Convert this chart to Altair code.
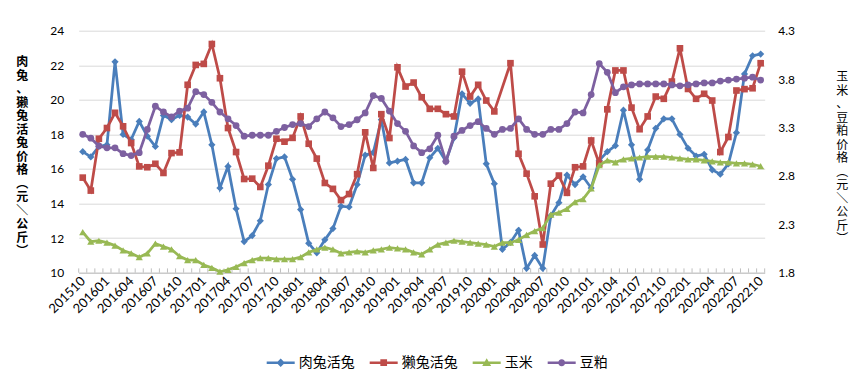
import altair as alt
import pandas as pd

# ---- categories (monthly, 201510 .. 202210) ----
months = []
_y, _m = 2015, 10
for _ in range(85):
    months.append(f"{_y}{_m:02d}")
    _m += 1
    if _m > 12:
        _m = 1
        _y += 1

# ---- series values ----
rou_tu = [17.0, 16.7, 17.3, 17.4, 22.2, 18.0, 17.7, 18.75, 17.9, 17.3,
          19.1, 18.85, 19.1, 19.0, 18.6, 19.3, 17.4, 14.9, 16.15, 13.7,
          11.8, 12.15, 13.0, 15.1, 16.6, 16.7, 15.4, 13.65, 11.7, 11.15,
          11.9, 12.55, 13.85, 13.8, 15.1, 16.8, 16.95, 18.85, 16.35, 16.45,
          16.55, 15.2, 15.2, 16.65, 17.2, 16.45, 17.8, 20.35, 19.8, 20.05,
          16.3, 15.15, 11.35, 11.75, 12.45, 10.25, 11.0, 10.25, 13.3, 14.05,
          15.65, 15.1, 15.55, 14.9, 16.5, 17.0, 17.35, 19.4, 17.4, 15.4,
          17.1, 18.35, 18.9, 18.9, 18.0, 17.2, 16.75, 16.85, 15.95, 15.7,
          16.3, 18.1, 21.5, 22.55, 22.65]

ta_tu = [15.5, 14.75, 17.75, 18.37, 19.25, 18.47, 17.5, 16.15, 16.1, 16.3,
         15.77, 16.92, 16.96, 20.87, 22.02, 22.08, 23.23, 21.25, 18.37, 16.98,
         15.42, 15.44, 14.96, 16.19, 17.75, 17.58, 17.8, 19.04, 17.46, 16.6,
         15.19, 14.85, 14.2, 14.55, 15.7, 18.12, 16.06, 19.17, 17.79, 21.88,
         20.77, 21.0, 20.15, 19.48, 19.48, 19.17, 19.04, 21.63, 20.19, 20.87,
         19.96, 19.33, None, 22.12, 16.88, 15.73, 14.42, 11.63, 15.15, 15.62,
         14.62, 16.1, 16.15, 17.65, 16.3, 19.45, 21.7, 21.7, 19.55, 18.3,
         19.04, 20.19, 20.06, 21.06, 22.98, 20.63, 20.06, 20.35, 19.96, 16.98,
         17.85, 20.54, 20.62, 20.67, 22.12]

yu_mi = [2.22, 2.12, 2.13, 2.11, 2.08, 2.03, 2.00, 1.96, 2.00, 2.10,
         2.07, 2.04, 1.97, 1.93, 1.93, 1.88, 1.85, 1.81, 1.83, 1.86,
         1.90, 1.93, 1.95, 1.95, 1.94, 1.94, 1.94, 1.96, 2.01, 2.04,
         2.06, 2.04, 2.00, 2.01, 2.02, 2.01, 2.03, 2.04, 2.06, 2.05,
         2.04, 2.01, 1.99, 2.04, 2.09, 2.11, 2.13, 2.12, 2.11, 2.10,
         2.09, 2.07, 2.11, 2.11, 2.14, 2.19, 2.23, 2.26, 2.40, 2.42,
         2.46, 2.53, 2.56, 2.67, 2.91, 2.96, 2.94, 2.97, 2.98, 2.99,
         3.00, 3.00, 3.00, 2.99, 2.98, 2.97, 2.97, 2.96, 2.95, 2.94,
         2.94, 2.93, 2.93, 2.92, 2.90]

dou_po = [3.23, 3.19, 3.11, 3.09, 3.09, 3.03, 3.01, 3.04, 3.28, 3.52,
          3.46, 3.41, 3.47, 3.50, 3.67, 3.64, 3.56, 3.46, 3.39, 3.32,
          3.21, 3.22, 3.22, 3.22, 3.26, 3.30, 3.33, 3.34, 3.31, 3.39,
          3.46, 3.40, 3.31, 3.33, 3.38, 3.45, 3.63, 3.60, 3.47, 3.34,
          3.26, 3.11, 3.04, 3.08, 3.22, 2.95, 3.21, 3.27, 3.32, 3.36,
          3.29, 3.23, 3.28, 3.29, 3.39, 3.28, 3.23, 3.23, 3.28, 3.28,
          3.34, 3.46, 3.45, 3.64, 3.96, 3.87, 3.66, 3.72, 3.74, 3.75,
          3.75, 3.75, 3.75, 3.74, 3.73, 3.74, 3.75, 3.76, 3.76, 3.78,
          3.79, 3.80, 3.81, 3.82, 3.79]

SERIES = ["肉兔活兔", "獭兔活兔", "玉米", "豆粕"]
COLORS = ["#4A7EBB", "#BE4B48", "#98B954", "#7D60A0"]
SHAPES = ["diamond", "square", "triangle-up", "circle"]
SIZES = [52, 44, 52, 46]

left_ticks = [10, 12, 14, 16, 18, 20, 22, 24]
right_ticks = [1.8, 2.3, 2.8, 3.3, 3.8, 4.3]

# ---- long table ----
rows = []
for name, vals in zip(SERIES, [rou_tu, ta_tu, yu_mi, dou_po]):
    for i, v in enumerate(vals):
        if v is not None:
            rows.append({"idx": i, "month": months[i], "series": name, "value": v})
df = pd.DataFrame(rows)

bounds = pd.DataFrame({"b": [i - 0.5 for i in range(len(months) + 1)]})
legend_df = pd.DataFrame({"series": SERIES, "idx": [None] * 4, "value": [None] * 4})

FONT = "Lato"
CJK = "Noto Sans CJK SC"

label_expr = "[" + ",".join(f"'{m}'" for m in months) + "][datum.value]"
x_scale = alt.Scale(domain=[-0.5, len(months) - 0.5], nice=False, zero=False)
x_axis = alt.Axis(values=list(range(0, len(months), 3)), labelExpr=label_expr,
                  labelAngle=-45, labelAlign="right", labelBaseline="middle",
                  labelPadding=6, labelFont=FONT, labelFontSize=13, labelColor="#000",
                  labelFlush=False, labelOverlap=False, ticks=False, grid=False,
                  domainColor="#BFBFBF", domainWidth=1, title=None)

yl_scale = alt.Scale(domain=[10, 24], nice=False, zero=False)
yr_scale = alt.Scale(domain=[1.8, 4.3], nice=False, zero=False)

left_title = list("肉兔、獭兔活兔价格") + ["︵", "元", "＼", "公", "斤", "︶"]
right_title = list("玉米、豆粕价格") + ["︵", "元", "＼", "公", "斤", "︶"]

yl_axis = alt.Axis(values=left_ticks, grid=True, gridColor="#D9D9D9", gridWidth=1,
                   domain=False, ticks=False, labelFont=FONT, labelFontSize=12,
                   labelColor="#000", labelPadding=15,
                   title=left_title, titleAngle=0, titleX=-57, titleY=26.3,
                   titleAlign="center", titleBaseline="top", titleFont=CJK,
                   titleFontSize=12, titleFontWeight="bold", titleLineHeight=13.5,
                   titleColor="#000")
yr_axis = alt.Axis(orient="right", values=right_ticks, format=".1f", grid=False,
                   domain=False, ticks=False, labelFont=FONT, labelFontSize=12,
                   labelColor="#000", labelPadding=13,
                   title=right_title, titleAngle=0, titleX=77, titleY=41.3,
                   titleAlign="center", titleBaseline="top", titleFont=CJK,
                   titleFontSize=12, titleFontWeight="normal", titleLineHeight=13.5,
                   titleColor="#000")


def series_layers(k, y_scale, y_axis):
    name = SERIES[k]
    base = alt.Chart(df).transform_filter(alt.datum.series == name)
    enc = dict(
        x=alt.X("idx:Q", scale=x_scale, axis=x_axis),
        y=alt.Y("value:Q", scale=y_scale, axis=y_axis),
    )
    line = base.mark_line(color=COLORS[k], strokeWidth=2.75).encode(**enc)
    pts = base.mark_point(shape=SHAPES[k], filled=True, color=COLORS[k],
                          size=SIZES[k], opacity=1).encode(**enc)
    return [line, pts]


tick_layer = alt.Chart(bounds).mark_rule(color="#BFBFBF", strokeWidth=1).encode(
    x=alt.X("b:Q", scale=x_scale, axis=x_axis),
    y=alt.YDatum(10, scale=yl_scale, axis=yl_axis),
    y2=alt.Y2Datum(10.25),
)

PATHS = [
    "M-1,-0.09 L1,-0.09 L1,0.09 L-1,0.09 Z M0,-0.3 L0.3,0 L0,0.3 L-0.3,0 Z",
    "M-1,-0.09 L1,-0.09 L1,0.09 L-1,0.09 Z M-0.24,-0.24 L0.24,-0.24 L0.24,0.24 L-0.24,0.24 Z",
    "M-1,-0.09 L1,-0.09 L1,0.09 L-1,0.09 Z M0,-0.32 L0.32,0.24 L-0.32,0.24 Z",
    "M-1,-0.09 L1,-0.09 L1,0.09 L-1,0.09 Z M-0.25,0 A0.25,0.25 0 1,1 0.25,0 A0.25,0.25 0 1,1 -0.25,0 Z",
]

leg = alt.Legend(title=None, orient="none", legendX=188, legendY=318,
                 direction="horizontal", symbolSize=784, symbolStrokeWidth=0,
                 symbolOpacity=1, labelFont=CJK, labelFontSize=14, labelColor="#000",
                 labelOffset=4, columnPadding=15)

legend_layer = alt.Chart(legend_df).mark_point(filled=True, opacity=1).encode(
    x=alt.X("idx:Q", scale=x_scale, axis=x_axis),
    y=alt.Y("value:Q", scale=yl_scale, axis=yl_axis),
    color=alt.Color("series:N", scale=alt.Scale(domain=SERIES, range=COLORS), legend=leg),
    shape=alt.Shape("series:N", scale=alt.Scale(domain=SERIES, range=PATHS), legend=leg),
)

left = alt.layer(
    tick_layer,
    *series_layers(0, yl_scale, yl_axis),
    *series_layers(1, yl_scale, yl_axis),
    legend_layer,
)
right = alt.layer(
    *series_layers(2, yr_scale, yr_axis),
    *series_layers(3, yr_scale, yr_axis),
)

chart = alt.layer(left, right).resolve_scale(y="independent").properties(
    width=686, height=242,
    padding={"left": 70.7, "top": 22.7, "right": 90, "bottom": 100},
    autosize=alt.AutoSizeParams(type="none"),
    background="white",
).configure_view(stroke=None)

chart.save("out.html", embed_options={"renderer": "svg", "actions": False})
